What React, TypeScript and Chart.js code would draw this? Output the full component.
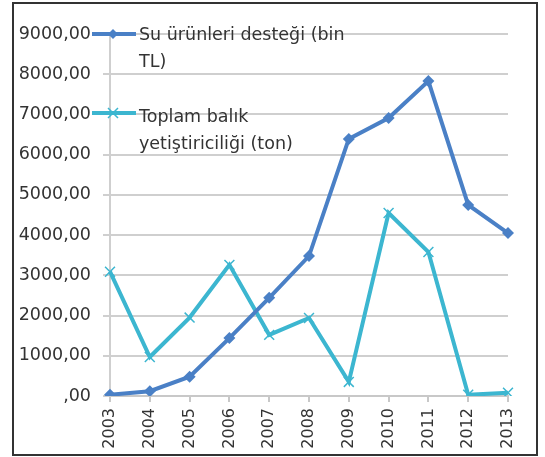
import React, { useEffect, useRef } from "react";
import { Chart, registerables } from "chart.js";

Chart.register(...registerables);

const years = ["2003", "2004", "2005", "2006", "2007", "2008", "2009", "2010", "2011", "2012", "2013"];
const destek = [30, 120, 480, 1440, 2440, 3480, 6390, 6910, 7830, 4750, 4050];
const yetistiricilik = [3090, 970, 1950, 3260, 1520, 1940, 350, 4550, 3580, 30, 80];
const seriesNames = ["Su ürünleri desteği (bin TL)", "Toplam balık yetiştiriciliği (ton)"];
const legendLines = [["Su ürünleri desteği (bin", "TL)"], ["Toplam balık", "yetiştiriciliği (ton)"]];

const BLUE = "#4a80c6";
const CYAN = "#3cb6d0";
const FONT = "DejaVu Sans";
const TEXT = "#333333";

const overlayPlugin = {
  id: "overlay",
  afterDraw(chart: any) {
    const ctx = chart.ctx;
    const xs = chart.scales.x;
    const bottom = chart.chartArea.bottom;
    ctx.save();
    ctx.fillStyle = TEXT;
    ctx.font = `16px '${FONT}'`;
    ctx.textAlign = "right";
    ctx.textBaseline = "middle";
    years.forEach((y, i) => {
      const x = xs.getPixelForValue(i);
      ctx.save();
      ctx.translate(x, bottom + 12);
      ctx.rotate(-Math.PI / 2);
      ctx.fillText(y, 0, 0);
      ctx.restore();
    });
    // legend
    ctx.font = `17.5px '${FONT}'`;
    const colors = [BLUE, CYAN];
    const rowsY = [30, 109];
    const textOff = [1, 4];
    const lineGap = 27;
    chart.data.datasets.forEach((ds: any, i: number) => {
      const y = rowsY[i];
      ctx.strokeStyle = colors[i];
      ctx.lineWidth = 4;
      ctx.beginPath();
      ctx.moveTo(78, y);
      ctx.lineTo(122, y);
      ctx.stroke();
      const mx = 99;
      if (i === 0) {
        ctx.fillStyle = colors[i];
        ctx.beginPath();
        ctx.moveTo(mx, y - 5);
        ctx.lineTo(mx + 5, y);
        ctx.lineTo(mx, y + 5);
        ctx.lineTo(mx - 5, y);
        ctx.closePath();
        ctx.fill();
      } else {
        ctx.lineWidth = 1.5;
        ctx.beginPath();
        ctx.moveTo(mx - 5, y - 5);
        ctx.lineTo(mx + 5, y + 5);
        ctx.moveTo(mx + 5, y - 5);
        ctx.lineTo(mx - 5, y + 5);
        ctx.stroke();
      }
      ctx.fillStyle = TEXT;
      ctx.textAlign = "left";
      ctx.textBaseline = "middle";
      legendLines[i].forEach((t, k) => ctx.fillText(t, 125, y + textOff[i] + k * lineGap));
    });
    ctx.restore();
  },
};

export default function App() {
  const ref = useRef<HTMLCanvasElement>(null);
  useEffect(() => {
    if (!ref.current) return;
    const chart = new Chart(ref.current, {
      type: "line",
      data: {
        labels: years,
        datasets: [
          {
            label: seriesNames[0],
            data: destek,
            borderColor: BLUE,
            backgroundColor: BLUE,
            borderWidth: 4,
            pointStyle: "rectRot",
            pointRadius: 6,
            pointBorderWidth: 0,
            tension: 0,
          },
          {
            label: seriesNames[1],
            data: yetistiricilik,
            borderColor: CYAN,
            backgroundColor: CYAN,
            borderWidth: 4,
            pointStyle: "crossRot",
            pointRadius: 7,
            pointBorderWidth: 1.5,
            tension: 0,
          },
        ],
      },
      plugins: [overlayPlugin],
      options: {
        animation: false,
        responsive: false,
        layout: { padding: { top: 30, right: 28, left: 0, bottom: 0 } },
        plugins: { legend: { display: false }, tooltip: { enabled: false } },
        scales: {
          x: {
            offset: false,
            grid: { drawOnChartArea: false, drawTicks: true, tickLength: 6, color: "#c8c8c8", lineWidth: 2 },
            border: { color: "#c8c8c8", width: 2 },
            ticks: { display: false },
            afterFit: (s: any) => { s.height = 58; },
          },
          y: {
            min: 0,
            max: 9000,
            ticks: {
              stepSize: 1000,
              padding: 12,
              color: TEXT,
              font: { family: FONT, size: 17.5 },
              callback: (v: any) => (v === 0 ? ",00" : Number(v).toFixed(2).replace(".", ",")),
            },
            grid: { color: "#cfcfcf", lineWidth: 2, tickLength: 7 },
            border: { color: "#cfcfcf", width: 2 },
            afterFit: (s: any) => { s.width = 96; },
          },
        },
      },
    });
    return () => chart.destroy();
  }, []);
  return (
    <div
      style={{
        position: "absolute",
        left: 12,
        top: 2,
        width: 526,
        height: 454,
        border: "2px solid #333",
        boxSizing: "border-box",
        background: "#fff",
      }}
    >
      <canvas ref={ref} width={522} height={450} style={{ display: "block", width: 522, height: 450 }} />
    </div>
  );
}
